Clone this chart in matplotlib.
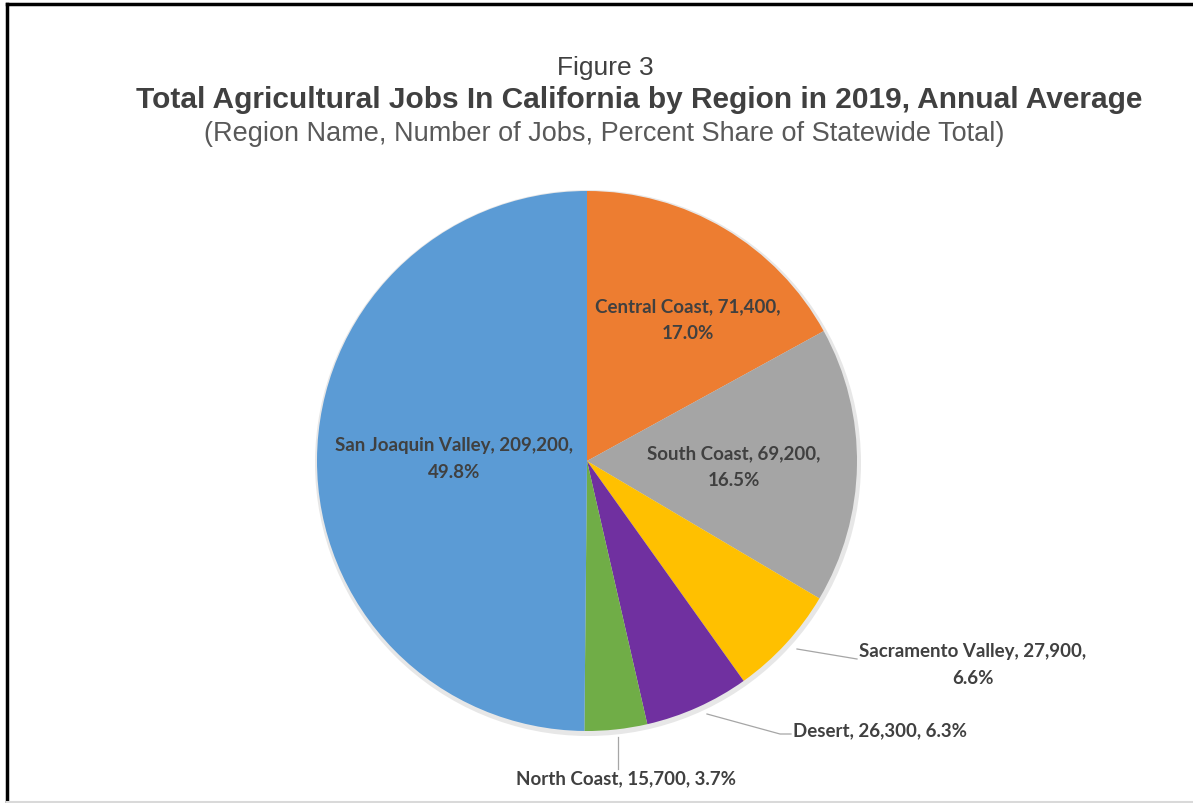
import matplotlib
matplotlib.use("Agg")
import matplotlib.pyplot as plt
from matplotlib.lines import Line2D

# ---- data ----
regions = ["Central Coast", "South Coast", "Sacramento Valley", "Desert",
           "North Coast", "San Joaquin Valley"]
jobs = [71400, 69200, 27900, 26300, 15700, 209200]
shares = [17.0, 16.5, 6.6, 6.3, 3.7, 49.8]
colors = ["#ED7D31", "#A5A5A5", "#FFC000", "#7030A0", "#70AD47", "#5B9BD5"]

W, H = 1193, 804
fig = plt.figure(figsize=(W / 100, H / 100), dpi=100)
ax = fig.add_axes([0, 0, 1, 1])
ax.set_xlim(0, W)
ax.set_ylim(0, H)
ax.set_aspect("equal")
ax.axis("off")

def Y(py):
    return H - py

cx, cy, r = 587, 462, 270

# soft shadow
shadow = plt.Circle((cx + 1, Y(cy) - 2), r + 3, color="#bbbbbb", alpha=0.35, lw=0)
ax.add_patch(shadow)

wedges, _ = ax.pie(jobs, colors=colors, startangle=90, counterclock=False,
                   center=(cx, Y(cy)), radius=r, frame=True,
                   wedgeprops=dict(linewidth=0))
ax.set_xlim(0, W)
ax.set_ylim(0, H)
ax.axis("off")

lab_font = dict(family=["Lato", "DejaVu Sans"], fontweight="bold", fontsize=13.5,
                color="#404040", ha="center", va="center", linespacing=1.72)

def fmt(i, split):
    a = f"{regions[i]}, {jobs[i]:,},"
    b = f"{shares[i]:.1f}%"
    return a + ("\n" if split else " ") + b

label_pos = {
    0: (688, 320, True),
    1: (734, 467, True),
    2: (973, 665, True),
    3: (880, 731, False),
    4: (626, 779, False),
    5: (454, 459, True),
}
for i, (px, py, split) in label_pos.items():
    ax.text(px, Y(py), fmt(i, split), **lab_font)

# leader lines
lc = "#a6a6a6"
ax.add_line(Line2D([797, 857], [Y(650), Y(660)], color=lc, lw=0.9))
ax.add_line(Line2D([707, 780, 791], [Y(715), Y(735), Y(735)], color=lc, lw=0.9))
ax.add_line(Line2D([618, 618], [Y(738), Y(770)], color=lc, lw=0.9))

# titles
tfont = ["Liberation Sans", "DejaVu Sans"]
fig.text(605 / W, 1 - 68 / H, "Figure 3", family=tfont, fontsize=19,
         color="#404040", ha="center", va="center")
fig.text(639 / W, 1 - 100 / H,
         "Total Agricultural Jobs In California by Region in 2019, Annual Average",
         family=tfont, fontsize=21.5, fontweight="bold", color="#404040",
         ha="center", va="center")
fig.text(604 / W, 1 - 134 / H,
         "(Region Name, Number of Jobs, Percent Share of Statewide Total)",
         family=tfont, fontsize=19.5, color="#595959", ha="center", va="center")

# frame lines
fig.add_artist(Line2D([7 / W, 7 / W], [0, 1 - 5 / H], color="black", lw=2.5,
                      transform=fig.transFigure))
fig.add_artist(Line2D([7 / W, 1], [1 - 5 / H, 1 - 5 / H], color="black", lw=2.5,
                      transform=fig.transFigure))
fig.add_artist(Line2D([7 / W, 1], [1.5 / H, 1.5 / H], color="#d9d9d9", lw=1.5,
                      transform=fig.transFigure))

fig.savefig("out.png", dpi=100)
